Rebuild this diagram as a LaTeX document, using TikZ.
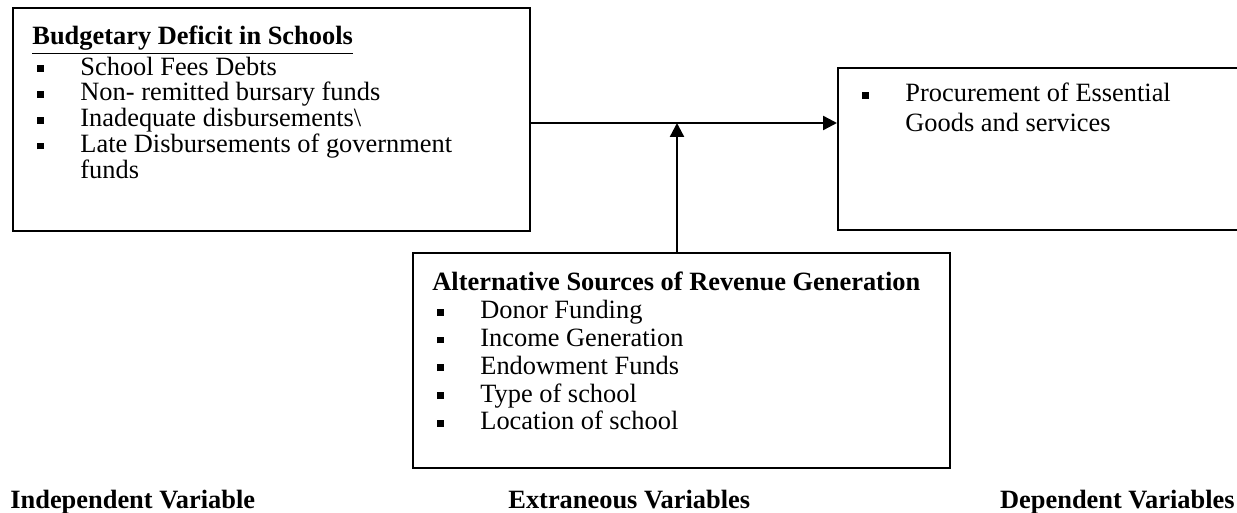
\documentclass[tikz,border=0pt]{standalone}
\usepackage{fontspec}
\setmainfont{Liberation Serif}
\usetikzlibrary{arrows.meta}

% square bullet and list line
\newcommand{\sqb}{\hspace*{2.5pt}\makebox[21.5pt][l]{\rule[0.12em]{3.4pt}{3.4pt}}}
\newcommand{\cont}{\hspace*{24pt}}

\tikzset{
  frame/.style={draw, line width=1pt, inner sep=0pt, anchor=north west},
  list/.style={align=left, inner sep=0pt, anchor=north west,
    font=\fontsize{13.2pt}{13.9pt}\selectfont},
  varlabel/.style={inner sep=0pt, font=\fontsize{13.2pt}{13.9pt}\selectfont\bfseries},
  link/.style={line width=1.2pt, -{Triangle[length=7pt,width=7pt]}}
}

\begin{document}
\begin{tikzpicture}[x=0.5pt,y=-0.5pt]
\useasboundingbox (0,0) rectangle (1237,513);

% boxes
\node[frame, minimum width=258.5pt, minimum height=111.5pt] (deficit) at (12,7) {};
\node[frame, minimum width=215pt, minimum height=81pt] (procure) at (837,67) {};
\node[frame, minimum width=268.5pt, minimum height=107.5pt] (sources) at (412,252) {};

% box texts
\node[list, font=\fontsize{13.2pt}{12.9pt}\selectfont] (deficittxt)
  at ([xshift=10pt,yshift=-9.5pt]deficit.north west)
  {\textbf{\underline{Budgetary Deficit in Schools}}\\
   \sqb School Fees Debts\\
   \sqb Non- remitted bursary funds\\
   \sqb Inadequate disbursements\textbackslash\\
   \sqb Late Disbursements of government\\
   \cont funds};
\node[list, font=\fontsize{13.2pt}{14.6pt}\selectfont] (procuretxt)
  at ([xshift=10pt,yshift=-8pt]procure.north west)
  {\sqb Procurement of Essential\\
   \cont Goods and services};
\node[list] (sourcestxt) at ([xshift=10pt,yshift=-10pt]sources.north west)
  {\textbf{Alternative Sources of Revenue Generation}\\
   \sqb Donor Funding\\
   \sqb Income Generation\\
   \sqb Endowment Funds\\
   \sqb Type of school\\
   \sqb Location of school};

% connectors
\coordinate (meet) at (677,123);
\draw[link] (deficit.east |- meet) -- (procure.west |- meet);
\draw[link] (sources.north -| meet) -- (meet);

% variable labels
\node[varlabel, anchor=base west] (indep) at (10,508) {Independent Variable};
\node[varlabel, anchor=base west] (extra) at (508,508) {Extraneous Variables};
\node[varlabel, anchor=base east] (dep) at (1235,508) {Dependent Variables};

\end{tikzpicture}
\end{document}
